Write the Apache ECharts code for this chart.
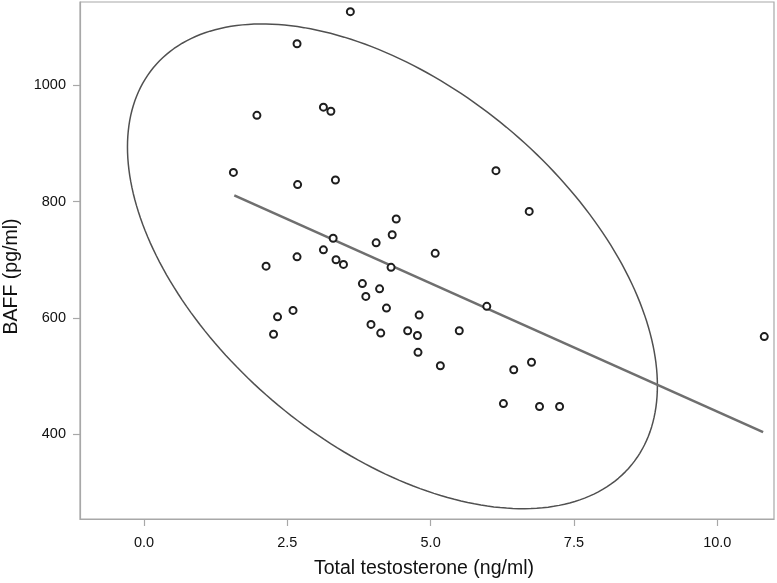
<!DOCTYPE html>
<html>
<head>
<meta charset="utf-8">
<script src="https://cdn.jsdelivr.net/npm/echarts@6/dist/echarts.min.js"></script>
<style>
html,body{margin:0;padding:0;background:#fff;}
#chart{width:777px;height:583px;}
</style>
</head>
<body>
<div id="chart"></div>
<script>
// ---- data ----
const xTicks = [0, 2.5, 5, 7.5, 10];
const yTicks = [400, 600, 800, 1000];
const xTitle = 'Total testosterone (ng/ml)';
const yTitle = 'BAFF (pg/ml)';

const testosterone = [3.60, 2.67, 3.13, 3.26, 1.97, 1.56, 6.14, 3.34, 2.68, 6.72,
  4.40, 4.33, 3.30, 4.05, 3.13, 5.08, 2.67, 3.35, 3.48, 2.13,
  4.31, 3.81, 4.11, 3.87, 5.98, 4.23, 2.60, 4.80, 2.33, 3.96,
  4.60, 5.50, 4.13, 2.26, 4.77, 10.82, 4.78, 6.76, 5.17, 6.45,
  6.27, 6.90, 7.25];
const baff = [1126, 1071, 962, 955, 948, 850, 853, 837, 829, 783,
  770, 743, 737, 729, 717, 711, 705, 700, 692, 689,
  687, 659, 650, 637, 620, 617, 613, 605, 602, 589,
  578, 578, 574, 572, 570, 568, 541, 524, 518, 511,
  453, 448, 448];

// fitted regression line end points
const fitX = [1.575, 10.80];
const fitY = [810.5, 404];

// confidence ellipse: centre, half extents, correlation
const ellipseCenter = [4.334, 688.7];
const ellipseHalfX = 4.622;
const ellipseHalfY = 416.2;
const ellipseCorr = -0.4924;

// ---- build ----
const points = testosterone.map((x, i) => [x, baff[i]]);
const fitLine = fitX.map((x, i) => [x, fitY[i]]);
const ellipse = [];
const nSeg = 240;
const s = Math.sqrt(1 - ellipseCorr * ellipseCorr);
for (let k = 0; k <= nSeg; k++) {
  const t = 2 * Math.PI * k / nSeg;
  ellipse.push([
    ellipseCenter[0] + ellipseHalfX * Math.cos(t),
    ellipseCenter[1] + ellipseHalfY * (ellipseCorr * Math.cos(t) + s * Math.sin(t))
  ]);
}

const FONT = "'Liberation Sans', Arial, sans-serif";
const axisGray = '#a8a8a8';

const chart = echarts.init(document.getElementById('chart'), null, {renderer: 'canvas'});
chart.setOption({
  animation: false,
  backgroundColor: '#ffffff',
  grid: {left: 80, right: 3, top: 2, bottom: 64, show: true, borderColor: axisGray, borderWidth: 1.2,
    containLabel: false, outerBoundsMode: 'none'},
  xAxis: {
    type: 'value', min: -1.116, max: 10.99,
    name: xTitle, nameLocation: 'middle', nameGap: 40,
    nameTextStyle: {fontFamily: FONT, fontSize: 19.5, color: '#111111', padding: [0, 6, 0, 0]},
    axisLine: {show: true, onZero: false, lineStyle: {color: axisGray, width: 1.2}},
    axisTick: {show: true, length: 7, lineStyle: {color: axisGray, width: 1.2}, customValues: xTicks},
    axisLabel: {show: true, margin: 16, fontFamily: FONT, fontSize: 14.5, color: '#111111', customValues: xTicks,
      formatter: v => Number(v).toFixed(1)},
    splitLine: {show: false}
  },
  yAxis: {
    type: 'value', min: 254.8, max: 1142.6,
    name: yTitle, nameLocation: 'middle', nameGap: 58,
    nameTextStyle: {fontFamily: FONT, fontSize: 19.5, color: '#111111', padding: [0, 32, 0, 0]},
    axisLine: {show: true, onZero: false, lineStyle: {color: axisGray, width: 1.2}},
    axisTick: {show: true, length: 7, lineStyle: {color: axisGray, width: 1.2}, customValues: yTicks},
    axisLabel: {show: true, margin: 14, fontFamily: FONT, fontSize: 14.5, color: '#111111', customValues: yTicks,
      formatter: v => String(Math.round(v))},
    splitLine: {show: false}
  },
  series: [
    {
      type: 'line', data: ellipse, showSymbol: false, symbol: 'none', smooth: false,
      lineStyle: {color: '#505050', width: 1.5}, silent: true, z: 2
    },
    {
      type: 'line', data: fitLine, showSymbol: false, symbol: 'none',
      lineStyle: {color: '#6f6f6f', width: 2.6}, silent: true, z: 3
    },
    {
      type: 'scatter', data: points, symbol: 'circle', symbolSize: 7,
      itemStyle: {color: '#ffffff', borderColor: '#1e1e1e', borderWidth: 2, opacity: 1}, z: 4
    }
  ]
});
</script>
</body>
</html>
